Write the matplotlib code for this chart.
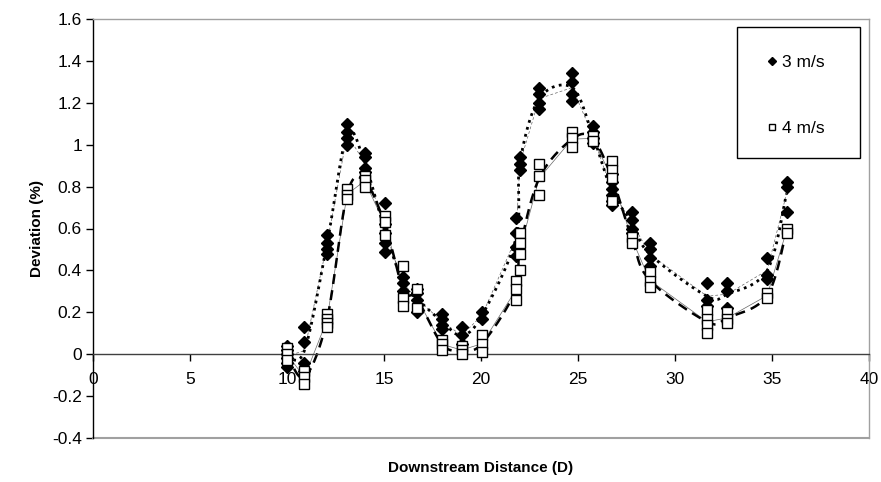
import numpy as np
import matplotlib
matplotlib.use("Agg")
import matplotlib.pyplot as plt
from matplotlib.patches import Rectangle

plt.rcParams['font.family'] = ['Liberation Sans', 'DejaVu Sans']

# ---- data ----
x3 = [10.0]*6 + [10.9]*4 + [12.05]*4 + [13.1]*4 + [14.0]*4 + [15.05]*5 + [16.0]*3 + \
     [16.7]*4 + [18.0]*4 + [19.0]*3 + [20.05]*2 + [21.8]*4 + [22.0]*3 + [23.0]*4 + \
     [24.7]*4 + [25.75]*4 + [26.75]*6 + [27.8]*4 + [28.7]*4 + [31.65]*3 + [32.7]*3 + \
     [34.75]*3 + [35.75]*3
y3 = [0.04, 0.02, 0.0, -0.02, -0.04, -0.06,
      0.13, 0.06, -0.04, -0.08,
      0.57, 0.53, 0.50, 0.48,
      1.10, 1.06, 1.03, 1.00,
      0.96, 0.94, 0.89, 0.87,
      0.72, 0.62, 0.58, 0.53, 0.49,
      0.37, 0.34, 0.30,
      0.31, 0.29, 0.26, 0.20,
      0.19, 0.17, 0.14, 0.12,
      0.13, 0.09, 0.05,
      0.20, 0.17,
      0.65, 0.58, 0.51, 0.47,
      0.94, 0.91, 0.88,
      1.27, 1.24, 1.20, 1.17,
      1.34, 1.30, 1.24, 1.21,
      1.09, 1.06, 1.03, 1.01,
      0.86, 0.82, 0.79, 0.76, 0.73, 0.71,
      0.68, 0.64, 0.60, 0.58,
      0.53, 0.50, 0.46, 0.42,
      0.34, 0.26, 0.23,
      0.34, 0.30, 0.22,
      0.46, 0.38, 0.36,
      0.82, 0.80, 0.68]

x4 = [10.0]*3 + [10.9]*3 + [12.05]*4 + [13.1]*3 + [14.0]*3 + [15.05]*3 + [16.0]*3 + \
     [16.7]*2 + [18.0]*3 + [19.0]*3 + [20.05]*3 + [21.8]*3 + [22.0]*4 + [23.0]*3 + \
     [24.7]*3 + [25.75]*2 + [26.75]*4 + [27.8]*2 + [28.7]*3 + [31.65]*4 + [32.7]*3 + \
     [34.75]*2 + [35.75]*2
y4 = [0.03, 0.0, -0.03,
      -0.08, -0.11, -0.14,
      0.19, 0.17, 0.15, 0.13,
      0.79, 0.76, 0.74,
      0.85, 0.83, 0.80,
      0.66, 0.63, 0.57,
      0.42, 0.27, 0.23,
      0.31, 0.22,
      0.07, 0.05, 0.02,
      0.04, 0.02, 0.00,
      0.09, 0.05, 0.01,
      0.35, 0.31, 0.26,
      0.58, 0.53, 0.48, 0.40,
      0.91, 0.85, 0.76,
      1.06, 1.03, 0.99,
      1.04, 1.02,
      0.92, 0.88, 0.84, 0.73,
      0.56, 0.53,
      0.39, 0.35, 0.32,
      0.21, 0.17, 0.14, 0.10,
      0.20, 0.17, 0.15,
      0.29, 0.27,
      0.60, 0.58]

x_ticks = [0, 5, 10, 15, 20, 25, 30, 35, 40]
y_ticks = [-0.4, -0.2, 0, 0.2, 0.4, 0.6, 0.8, 1, 1.2, 1.4, 1.6]
y_tick_labels = ['-0.4', '-0.2', '0', '0.2', '0.4', '0.6', '0.8', '1', '1.2', '1.4', '1.6']


def group_mean(xs, ys):
    xs = np.asarray(xs); ys = np.asarray(ys)
    ux = np.unique(xs)
    return ux, np.array([ys[xs == u].mean() for u in ux])


def smooth(px, py, n=30):
    # Bezier smoothing through the points (like Excel smoothed lines)
    P = np.column_stack([px, py])
    P = np.vstack([P[0], P, P[-1]])
    out = []
    t = np.linspace(0, 1, n)[:, None]
    for i in range(1, len(P) - 2):
        p0, p1, p2, p3 = P[i - 1], P[i], P[i + 1], P[i + 2]
        c1 = p1 + (p2 - p0) / 6
        c2 = p2 - (p3 - p1) / 6
        seg = ((1 - t) ** 3) * p1 + 3 * ((1 - t) ** 2) * t * c1 + 3 * (1 - t) * t ** 2 * c2 + t ** 3 * p2
        out.append(seg)
    out = np.vstack(out)
    return out[:, 0], out[:, 1]


fig = plt.figure(figsize=(8.81, 4.82), dpi=100)
ax = fig.add_axes([93 / 881, 44 / 482, 776 / 881, 419 / 482])

mx3, my3 = group_mean(x3, y3)
mx4, my4 = group_mean(x4, y4)
sx3, sy3 = smooth(mx3, my3)
sx4, sy4 = smooth(mx4, my4)

# thin connecting lines
ax.plot(mx3, my3, color='#666666', lw=0.5, linestyle=(0, (4, 3)), zorder=1)
ax.plot(mx4, my4, color='#666666', lw=0.5, zorder=1)

ax.plot(sx3, sy3, color='black', lw=2.0, linestyle=(0, (1, 1.6)), zorder=2)
ax.plot(sx4, sy4, color='black', lw=1.8, linestyle=(0, (4, 2.5)), zorder=2)

ax.plot(x3, y3, linestyle='none', marker='D', markersize=6, color='black',
        markeredgecolor='black', label='3 m/s', zorder=3)
ax.plot(x4, y4, linestyle='none', marker='s', markersize=6.5, markerfacecolor='white',
        markeredgecolor='black', markeredgewidth=1.0, label='4 m/s', zorder=4)

ax.set_xlim(0, 40)
ax.set_ylim(-0.4, 1.6)
ax.set_xticks(x_ticks)
ax.set_xticklabels([str(v) for v in x_ticks])
ax.set_yticks(y_ticks)
ax.set_yticklabels(y_tick_labels)

ax.spines['bottom'].set_position(('data', 0))
ax.spines['bottom'].set_color('#404040')
ax.spines['bottom'].set_linewidth(1.0)
ax.spines['left'].set_color('black')
ax.spines['left'].set_linewidth(1.0)
for s in ['top', 'right']:
    ax.spines[s].set_color('#a0a0a0')
    ax.spines[s].set_linewidth(1.0)
# plot-area bottom border
ax.axhline(-0.4, color='#a0a0a0', lw=1.5, clip_on=False)

ax.tick_params(axis='x', direction='out', length=5, width=1, labelsize=12.5, pad=8)
ax.tick_params(axis='y', direction='out', length=5, width=1, labelsize=12.5, pad=3)

ax.set_ylabel('Deviation (%)', fontsize=11, fontweight='bold', labelpad=6)
fig.text((93 + 869) / 2 / 881, 1 - 468 / 482, 'Downstream Distance (D)', fontsize=11,
         fontweight='bold', ha='center', va='center')

# legend box
bx0, bx1, by0, by1 = 737, 860, 27, 158  # pixel geometry of legend frame
fx = lambda px: (px - 93) / 776
fy = lambda py: (438 - py) / 419
ax.add_patch(Rectangle((fx(bx0), fy(by1)), fx(bx1) - fx(bx0), fy(by0) - fy(by1),
                       transform=ax.transAxes, facecolor='white', edgecolor='black',
                       lw=1.0, zorder=5, clip_on=False))
leg = ax.legend(loc='center', bbox_to_anchor=(fx((bx0 + bx1) / 2 - 3), fy((by0 + by1) / 2 + 3)),
                frameon=False, fontsize=12.5,
                handlelength=0.6, handletextpad=0.3, labelspacing=2.95, borderpad=0,
                borderaxespad=0, markerscale=0.75)
leg.set_zorder(6)

fig.savefig('out.png', dpi=100)
